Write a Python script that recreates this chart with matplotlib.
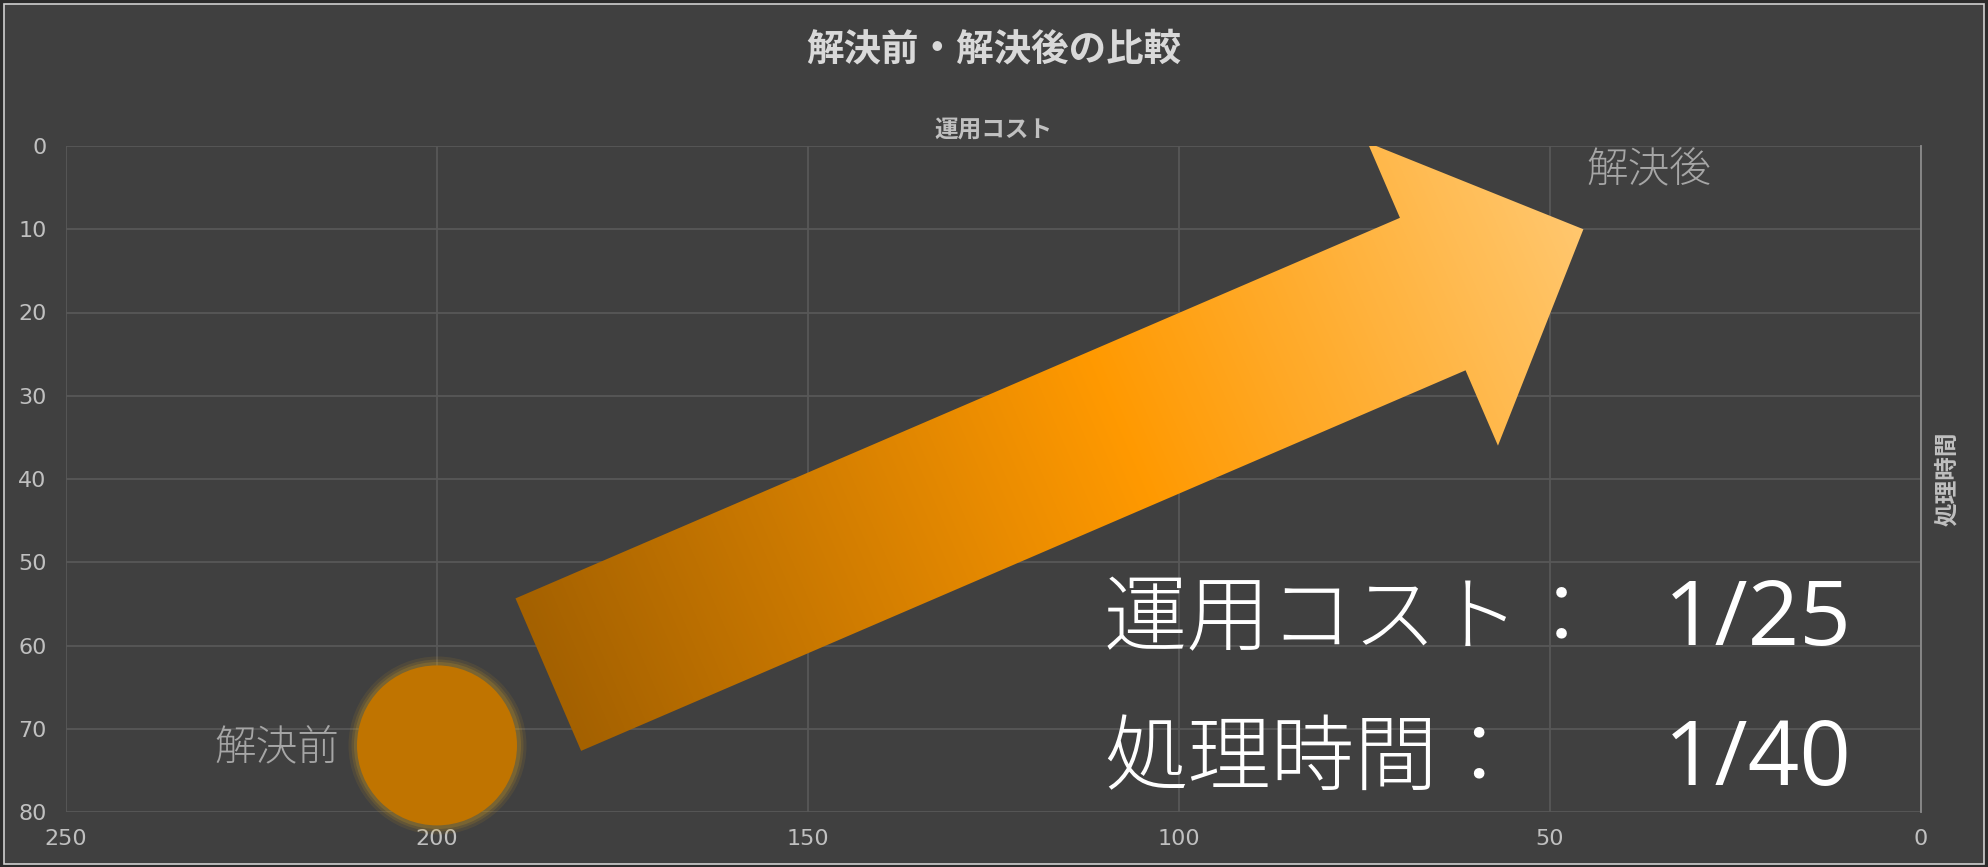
import numpy as np
import matplotlib.pyplot as plt
from matplotlib.colors import LinearSegmentedColormap
from matplotlib.patches import Polygon, Rectangle

plt.rcParams['font.family'] = ['Noto Sans CJK JP', 'DejaVu Sans']

# data
labels = ['解決前', '解決後']
cost = [200, 45.5]      # 運用コスト
proc_time = [72, 10]    # 処理時間
bubble = [100, 0]

# arrow from "before" towards "after"
arrow_from = (185, 63.5)
arrow_to = (cost[1], proc_time[1])

x_ticks = [250, 200, 150, 100, 50, 0]
y_ticks = [0, 10, 20, 30, 40, 50, 60, 70, 80]

summary_names = ['運用コスト：', '処理時間：']
summary_ratio = ['1/25', '1/40']

W, H = 1988, 867
fig = plt.figure(figsize=(W / 100, H / 100), dpi=100, facecolor='#2b2b2b')
fig.patches.append(Rectangle((4 / W, 3 / H), (W - 8) / W, (H - 7) / H, transform=fig.transFigure,
                             facecolor='#404040', edgecolor='#cfcfcf', lw=1.2, zorder=-1))

ax = fig.add_axes([66 / W, 1 - 812 / H, (1921 - 66) / W, (812 - 146) / H])
ax.set_facecolor('#404040')
ax.set_xlim(250, 0)
ax.set_ylim(80, 0)
ax.set_xticks(x_ticks)
ax.set_yticks(y_ticks)
ax.grid(color='#585858', lw=1.3)
ax.set_axisbelow(True)
for side in ['left', 'top', 'bottom']:
    ax.spines[side].set_visible(False)
ax.spines['right'].set_color('#8c8c8c')
ax.spines['right'].set_linewidth(1.3)
ax.tick_params(length=0, colors='#c0c0c0', labelsize=16)
ax.tick_params(axis='x', pad=12)
ax.tick_params(axis='y', pad=14)
for lbl in ax.get_xticklabels() + ax.get_yticklabels():
    lbl.set_fontfamily(['Liberation Sans Narrow', 'DejaVu Sans'])

ax.set_xlabel('運用コスト', fontsize=17, fontweight='bold', color='#c0c0c0', labelpad=6)
ax.xaxis.set_label_position('top')
ax.set_ylabel('処理時間', fontsize=17, fontweight='bold', color='#c0c0c0', rotation=90, labelpad=10)
ax.yaxis.set_label_position('right')

fig.text(994 / W, 1 - 49 / H, '解決前・解決後の比較', ha='center', va='center',
         fontsize=27, fontweight='bold', color='#d9d9d9')

# gradient arrow
p0 = ax.transData.transform(arrow_from)
p1 = ax.transData.transform(arrow_to)
d = p1 - p0
L = np.hypot(*d)
u = d / L
n = np.array([-u[1], u[0]])
hw, hh, hl = 83, 165, 164
base = p1 - u * hl
pts = np.array([p0 + n * hw, base + n * hw, base + n * hh, p1, base - n * hh, base - n * hw, p0 - n * hw])
inv = ax.transData.inverted()
poly = Polygon(inv.transform(pts), closed=True, fc='none', ec='none')
ax.add_patch(poly)

xmin, ymin = np.floor(pts.min(axis=0)) - 2
xmax, ymax = np.ceil(pts.max(axis=0)) + 2
X, Y = np.meshgrid(np.arange(xmin, xmax), np.arange(ymin, ymax))
t = np.clip(((X - p0[0]) * u[0] + (Y - p0[1]) * u[1]) / L, 0, 1)
cmap = LinearSegmentedColormap.from_list('arr', [(0, '#a46100'), (0.55, '#ff9900'), (1, '#ffc76e')])
ex0, ey0 = inv.transform((xmin, ymin))
ex1, ey1 = inv.transform((xmax, ymax))
im = ax.imshow(cmap(t), extent=(ex0, ex1, ey0, ey1), origin='lower', aspect='auto',
               interpolation='bilinear', zorder=3)
im.set_clip_path(poly)
ax.set_xlim(250, 0)
ax.set_ylim(80, 0)

# bubbles
for dia, a in [(178, 0.10), (172, 0.14), (167, 0.2)]:
    ax.scatter(cost[:1], proc_time[:1], s=(dia * 0.72) ** 2, color='#d9a21e', alpha=a,
               linewidths=0, zorder=4, clip_on=False)
ax.scatter(cost, proc_time, s=[b * 132.7 for b in bubble], color='#c07400', linewidths=0,
           zorder=5, clip_on=False)

ax.annotate(labels[0], (cost[0], proc_time[0]), xytext=(-160, -2), textcoords='offset pixels',
            ha='center', va='center', fontsize=30, color='#a6a6a6', fontweight='light', zorder=6)
ax.annotate(labels[1], (cost[1], proc_time[1]), xytext=(65, 59), textcoords='offset pixels',
            ha='center', va='center', fontsize=30, color='#a6a6a6', fontweight='light', zorder=6)

# summary text
for i, (y_jp, y_num) in enumerate([(621, 645), (760, 785)]):
    fig.text(1104 / W, 1 - y_jp / H, summary_names[i], fontsize=60, color='white',
             fontweight='light', ha='left', va='center')
    fig.text(1664 / W, 1 - y_num / H, summary_ratio[i], fontsize=65, color='white',
             family=['Open Sans', 'DejaVu Sans'], ha='left', va='baseline')

fig.savefig('out.png', dpi=100, facecolor=fig.get_facecolor())
